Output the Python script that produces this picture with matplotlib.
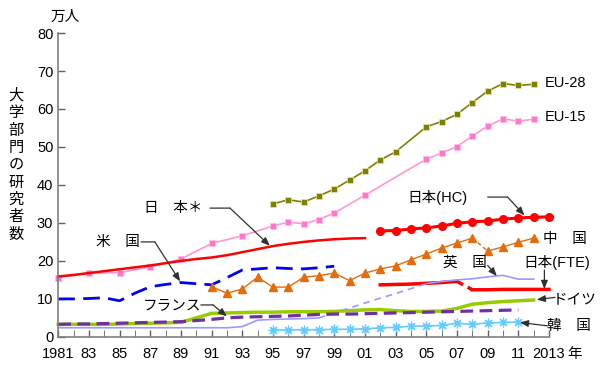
import numpy as np
import matplotlib
matplotlib.use("Agg")
import matplotlib.pyplot as plt

plt.rcParams['font.family'] = ['Liberation Sans', 'Noto Sans CJK JP', 'DejaVu Sans']

# --- data (万人) ---
eu28_years = [1995, 1996, 1997, 1998, 1999, 2000, 2001, 2002, 2003, 2005, 2006, 2007, 2008, 2009, 2010, 2011, 2012]
eu28 = [35.0, 36.1, 35.5, 37.1, 38.9, 41.3, 43.7, 46.6, 48.7, 55.3, 56.7, 58.6, 61.7, 64.7, 66.7, 66.2, 66.5]

eu15_years = [1981, 1983, 1985, 1987, 1989, 1991, 1993, 1995, 1996, 1997, 1998, 1999, 2001, 2005, 2006, 2007, 2008, 2009, 2010, 2011, 2012]
eu15 = [15.6, 16.8, 16.9, 18.4, 20.5, 24.6, 26.6, 29.2, 30.2, 29.8, 30.9, 32.6, 37.3, 46.8, 48.4, 50.1, 52.9, 55.5, 57.4, 56.8, 57.3]

jp_years = list(range(1981, 2002))
jp_star = [15.9, 16.3, 16.8, 17.3, 17.8, 18.3, 18.8, 19.4, 20.0, 20.5, 20.9, 21.5, 22.3, 23.1, 23.9, 24.5, 25.0, 25.4, 25.7, 25.9, 26.0]

hc_years = list(range(2002, 2014))
jp_hc = [27.9, 28.0, 28.4, 28.7, 29.2, 29.9, 30.3, 30.5, 31.0, 31.3, 31.5, 31.6]

fte_years = list(range(2002, 2014))
jp_fte = [13.7, 13.8, 13.9, 14.1, 14.3, 14.6, 12.4, 12.4, 12.5, 12.5, 12.5, 12.5]

us_years = list(range(1981, 2000))
us = [10.0, 10.0, 10.1, 10.3, 9.5, 11.5, 13.2, 13.8, 14.3, 14.0, 13.7, 15.6, 17.6, 17.9, 18.2, 18.0, 17.9, 18.2, 18.6]

cn_years = list(range(1991, 2013))
china = [13.2, 11.5, 12.6, 15.7, 13.1, 13.1, 15.7, 16.1, 16.8, 14.8, 16.8, 17.9, 18.7, 20.3, 21.8, 23.4, 24.7, 26.0, 22.6, 23.7, 24.9, 26.0]

uk_years = list(range(1981, 2013))
uk = [2.4, 2.4, 2.4, 2.4, 2.4, 2.4, 2.4, 2.4, 2.4, 2.4, 2.4, 2.4, 2.7, 4.4, 4.6, 4.7, 4.8, 5.0,
      6.3, 7.6, 8.9, 10.2, 11.4, 12.7, 14.0, 14.6, 15.0, 15.3, 15.8, 16.2, 15.2, 15.2]
uk_dash_from, uk_dash_to = 1998, 2005

de_years = list(range(1981, 2013))
germany = [3.3, 3.3, 3.3, 3.3, 3.4, 3.5, 3.6, 3.7, 3.8, 5.0, 6.2, 6.3, 6.4, 6.5, 6.5, 6.6, 6.6, 6.6, 6.7, 6.9, 7.1,
           7.2, 6.9, 6.7, 6.7, 6.8, 7.5, 8.6, 9.0, 9.3, 9.5, 9.7]

fr_years = list(range(1981, 2012))
france = [3.3, 3.4, 3.4, 3.5, 3.6, 3.7, 3.8, 3.9, 4.0, 4.3, 4.6, 5.0, 5.2, 5.3, 5.4, 5.5, 5.7, 5.9, 6.0, 6.0,
          6.1, 6.2, 6.3, 6.4, 6.5, 6.6, 6.7, 6.8, 6.9, 7.0, 7.1]

kr_years = list(range(1995, 2012))
korea = [1.8, 1.8, 1.9, 1.9, 2.0, 2.0, 2.1, 2.4, 2.5, 2.8, 2.9, 3.0, 3.6, 3.3, 3.7, 3.8, 3.9]

tick_years = list(range(1981, 2014, 2))
tick_labels = ['1981'] + ['%02d' % (y % 100) for y in tick_years[1:-1]] + ['2013']

fig = plt.figure(figsize=(6, 3.71), dpi=100)
ax = fig.add_axes([0.097, 0.092, 0.818, 0.819])


def line(x, y, **kw):
    ax.plot(x, y, clip_on=False, **kw)


# EU
line(eu28_years, eu28, color='#808000', lw=1.2, marker='s', ms=5, mfc='#808000', mec='#e8e8b0', mew=0.5)
line(eu15_years, eu15, color='#ff99cc', lw=1.2, marker='s', ms=5, mfc='#ff77cc', mec='#ffc0e0', mew=0.5)

# Japan
line(jp_years, jp_star, color='#ff0000', lw=1.8)
line(hc_years, jp_hc, color='#ff0000', lw=2.2, marker='o', ms=5.5)
i7 = fte_years.index(2007)
line(fte_years[:i7 + 1], jp_fte[:i7 + 1], color='#ff0000', lw=2.5)
line(fte_years[i7:i7 + 2], jp_fte[i7:i7 + 2], color='#ff0000', lw=2.5, ls=(0, (2, 1.5)))
line(fte_years[i7 + 1:], jp_fte[i7 + 1:], color='#ff0000', lw=2.5)

# USA
line(us_years, us, color='#0000ff', lw=2, ls=(0, (6, 3)))

# China
c8 = cn_years.index(2008)
line(cn_years[:c8 + 1], china[:c8 + 1], color='#e46c0a', lw=1, marker='^', ms=6, mec='#e46c0a')
line(cn_years[c8:c8 + 2], china[c8:c8 + 2], color='#e46c0a', lw=1, ls=(0, (3, 2)))
line(cn_years[c8 + 1:], china[c8 + 1:], color='#e46c0a', lw=1, marker='^', ms=6, mec='#e46c0a')

# UK
a = uk_years.index(uk_dash_from)
b = uk_years.index(uk_dash_to)
line(uk_years[:a + 1], uk[:a + 1], color='#9999ff', lw=1.2)
line(uk_years[a:b + 1], uk[a:b + 1], color='#9999ff', lw=1.2, ls=(0, (4, 3)))
line(uk_years[b:], uk[b:], color='#9999ff', lw=1.2)

# Germany / France / Korea
line(de_years, germany, color='#99cc00', lw=2.5)
line(fr_years, france, color='#7030a0', lw=2.3, ls=(0, (4, 2)))
line(kr_years, korea, color='#66ccff', lw=1.2, marker=(8, 2, 0), ms=7, mec='#66ccff', mew=0.9)

ax.set_xlim(1981, 2013)
ax.set_ylim(0, 80)
ax.set_xticks(tick_years)
ax.set_xticklabels(tick_labels)
ax.set_xticks(range(1981, 2014), minor=True)
ax.set_yticks(range(0, 81, 10))
ax.tick_params(axis='both', direction='in', labelsize=10.5, color='#606060', length=5, width=1)
ax.tick_params(axis='x', which='minor', direction='in', length=5, color='#606060')
ax.tick_params(axis='x', pad=7)
for s in ['top', 'right']:
    ax.spines[s].set_visible(False)
for s in ['left', 'bottom']:
    ax.spines[s].set_color('#808080')
    ax.spines[s].set_linewidth(1.2)

fs = 10.5
lc = '#303030'


def leader(label, tx, ty, pts, ha='center'):
    ax.text(tx, ty, label, fontsize=fs, ha=ha, va='center', clip_on=False)
    for p, q in zip(pts[:-2], pts[1:-1]):
        ax.annotate('', xy=q, xytext=p, annotation_clip=False, zorder=5,
                    arrowprops=dict(arrowstyle='-', color=lc, lw=0.9, shrinkA=0, shrinkB=0))
    ax.annotate('', xy=pts[-1], xytext=pts[-2], annotation_clip=False, zorder=5,
                arrowprops=dict(arrowstyle='-|>,head_length=0.5,head_width=0.2', color=lc, lw=0.9,
                                shrinkA=0, shrinkB=0))


ax.text(2012.75, 66.8, 'EU-28', fontsize=fs, ha='left', va='center', clip_on=False)
ax.text(2012.75, 57.9, 'EU-15', fontsize=fs, ha='left', va='center', clip_on=False)
leader('日　本＊', 1988.5, 33.9, [(1990.9, 33.9), (1992.2, 33.9), (1994.8, 24.0)])
leader('米　国', 1984.9, 25.0, [(1986.4, 25.0), (1987.3, 25.0), (1988.95, 14.6)])
leader('フランス', 1988.4, 8.4, [(1990.3, 8.4), (1991.1, 8.4), (1992.0, 5.4)])
leader('日本(HC)', 2005.7, 36.8, [(2009.0, 36.8), (2010.3, 36.8), (2011.4, 32.0)])
ax.text(2014.05, 25.8, '中　国', fontsize=fs, ha='center', va='center', clip_on=False)
leader('英　国', 2007.5, 19.5, [(2009.0, 18.8), (2009.6, 16.0)])
leader('日本(FTE)', 2013.5, 19.5, [(2012.7, 17.6), (2012.7, 12.6)])
leader('ドイツ', 2014.7, 9.7, [(2013.4, 10.4), (2012.2, 9.8)])
leader('韓　国', 2014.3, 2.9, [(2012.9, 2.9), (2011.1, 3.8)])

fig.text(0.108, 0.955, '万人', fontsize=fs, ha='center', va='center')
fig.text(0.958, 0.045, '年', fontsize=fs, ha='center', va='center')
fig.text(0.027, 0.555, '\n'.join('大学部門の研究者数'), fontsize=11, ha='center', va='center',
         linespacing=1.3)

fig.savefig('out.png', dpi=100)
